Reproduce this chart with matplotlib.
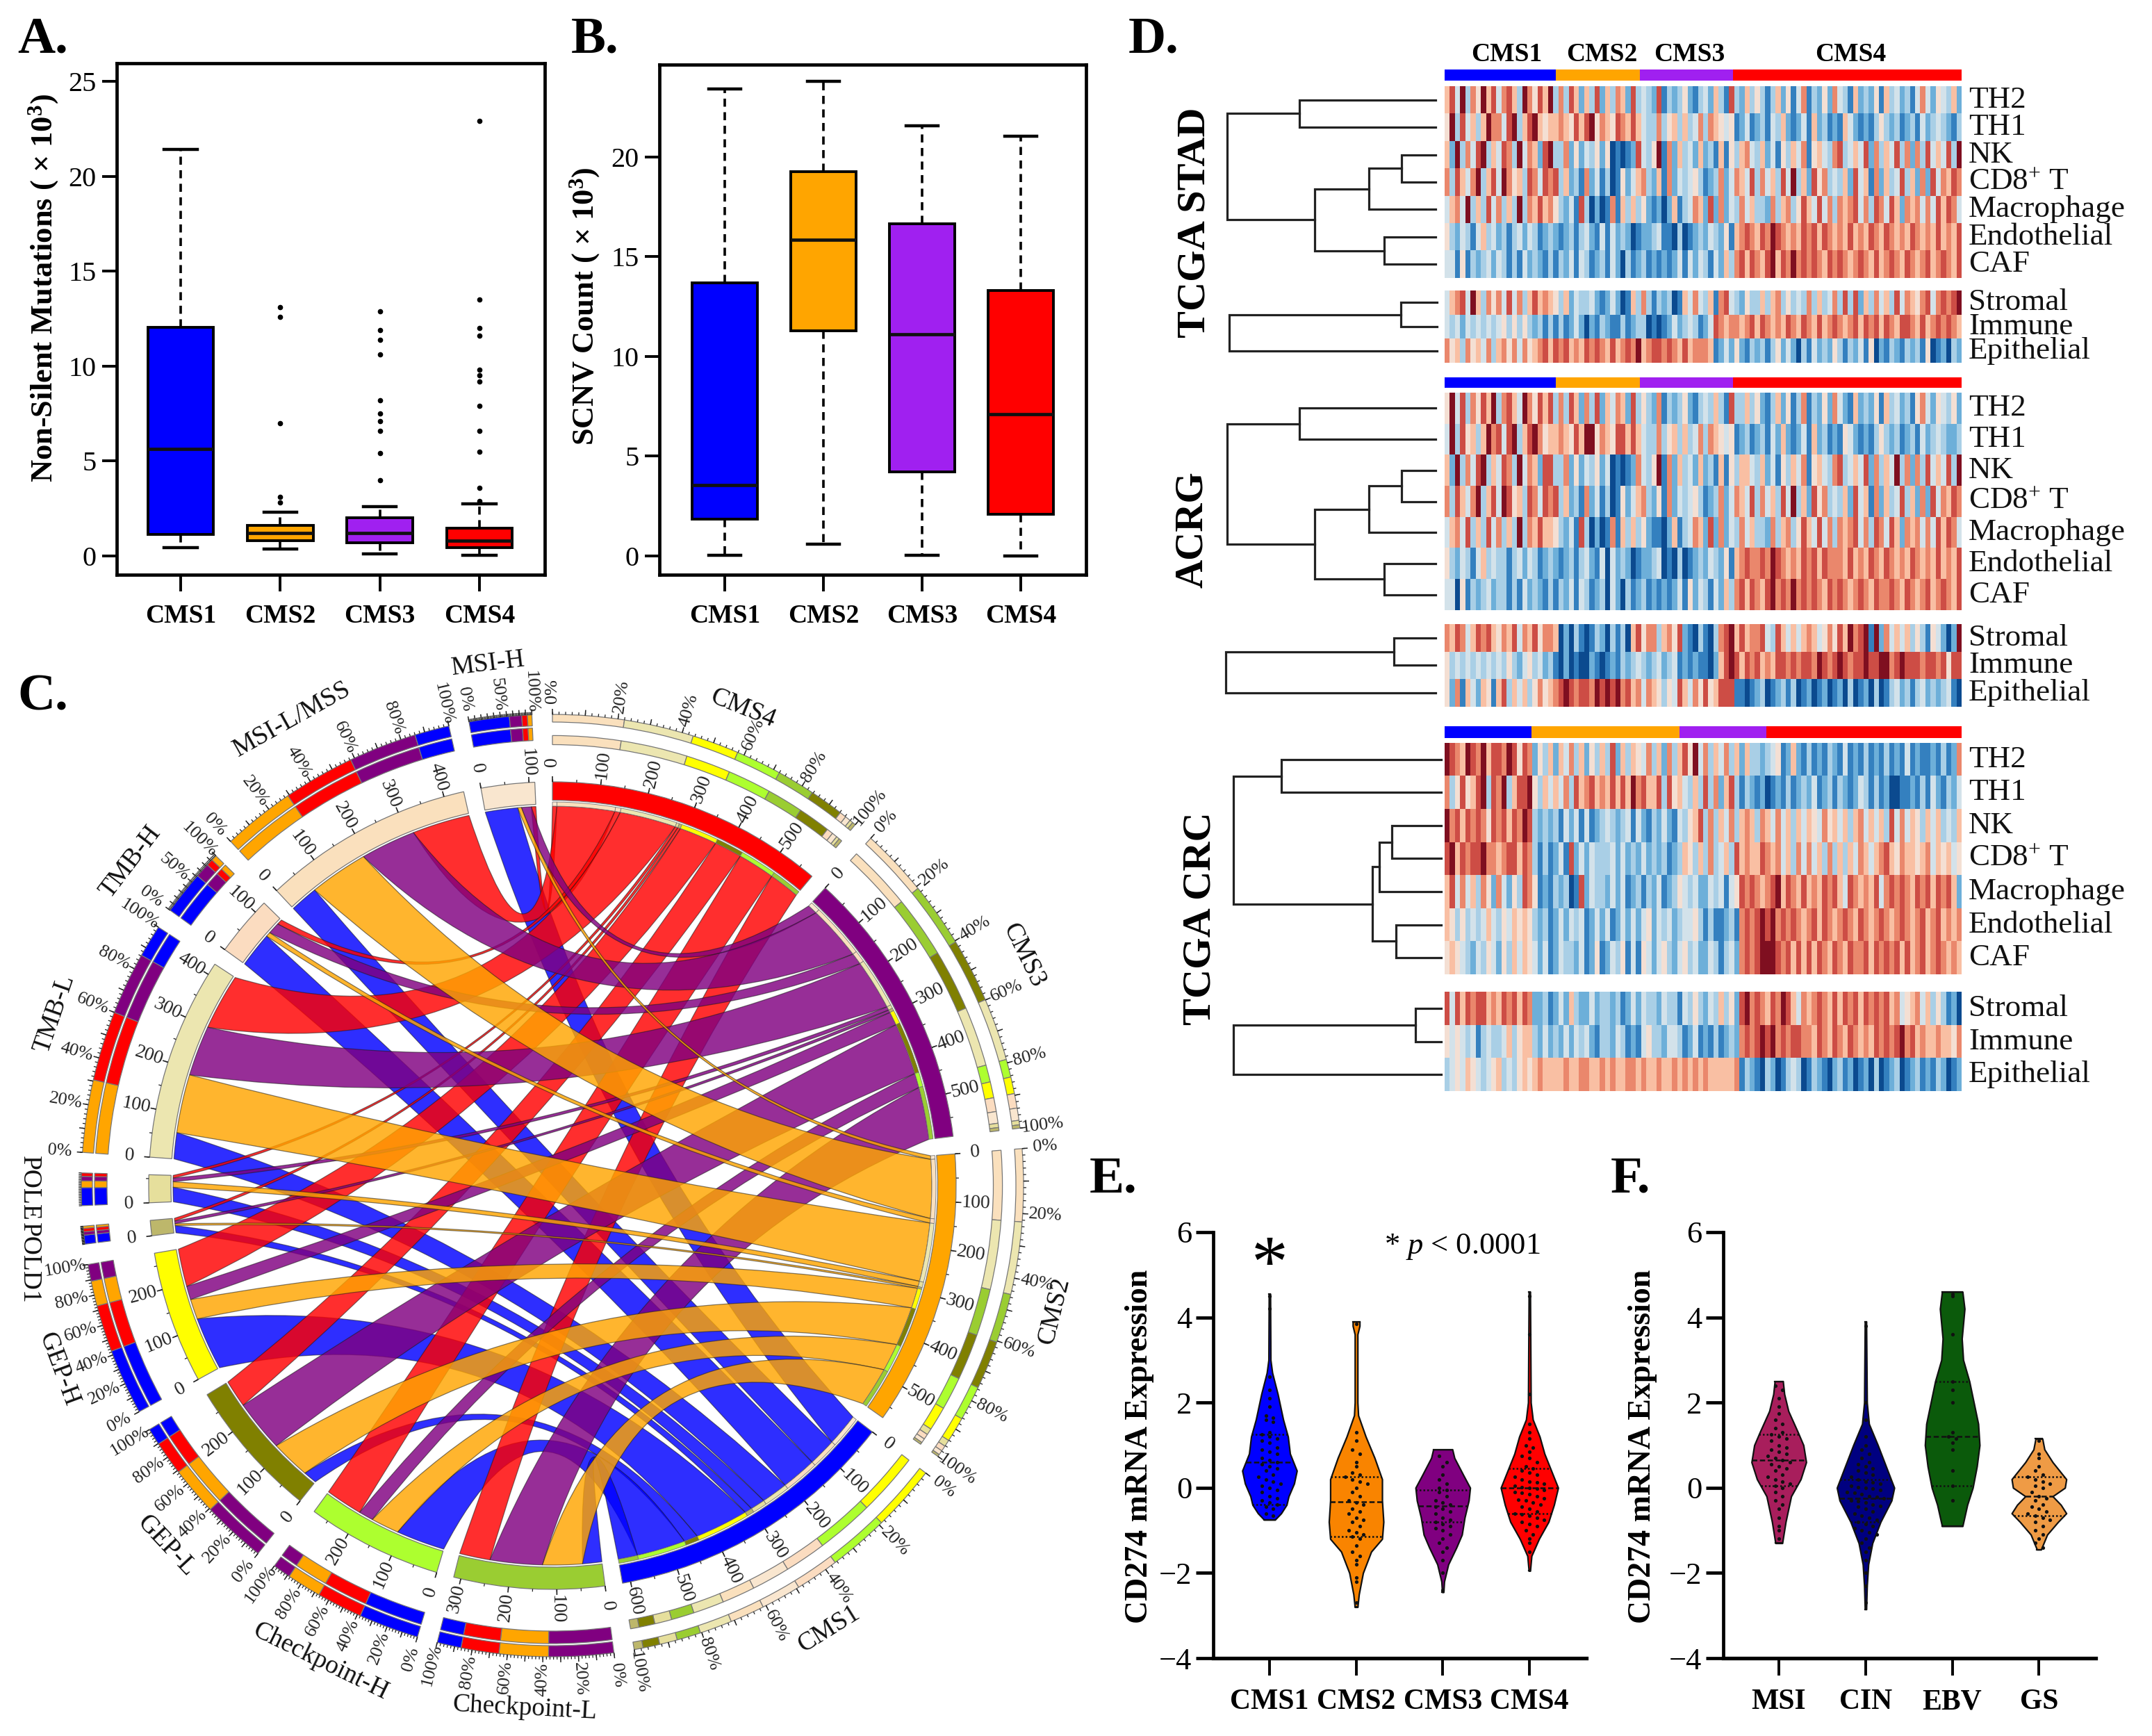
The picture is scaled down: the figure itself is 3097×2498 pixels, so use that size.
import numpy as np
import matplotlib
matplotlib.use("Agg")
import matplotlib.pyplot as plt
from matplotlib.colors import ListedColormap
from matplotlib.patches import Wedge, PathPatch
from matplotlib.path import Path
from matplotlib.collections import LineCollection

plt.rcParams['font.family'] = ['Liberation Serif', 'DejaVu Serif']
plt.rcParams['mathtext.fontset'] = 'custom'
plt.rcParams['mathtext.rm'] = 'Liberation Serif'
plt.rcParams['mathtext.it'] = 'Liberation Serif:italic'
plt.rcParams['mathtext.bf'] = 'Liberation Serif:bold'

W, H = 3097, 2498

# ---- A / B boxplots
cms_names = ["CMS1", "CMS2", "CMS3", "CMS4"]
cms_colors = ["#0000ff", "#ffa500", "#a020f0", "#ff0000"]
a_low = [0.45, 0.35, 0.1, 0.03]
a_q1 = [1.15, 0.8, 0.7, 0.45]
a_med = [5.65, 1.2, 1.2, 0.8]
a_q3 = [12.05, 1.6, 2.0, 1.45]
a_high = [21.4, 2.3, 2.6, 2.75]
a_fliers = [[],
            [2.8, 3.1, 7.0, 12.6, 13.1],
            [4.0, 5.4, 6.6, 7.1, 7.5, 8.2, 10.6, 11.4, 11.9, 12.9],
            [2.9, 3.6, 5.5, 6.6, 7.9, 9.2, 9.5, 9.8, 11.6, 12.0, 13.5, 22.9]]
b_low = [0.05, 0.6, 0.05, 0.0]
b_q1 = [1.85, 11.3, 4.2, 2.1]
b_med = [3.55, 15.85, 11.1, 7.1]
b_q3 = [13.7, 19.25, 16.65, 13.3]
b_high = [23.4, 23.8, 21.55, 21.05]

# ---- C chord
feature_names = ["MSI-H", "MSI-L/MSS", "TMB-H", "TMB-L", "POLE", "POLD1",
                 "GEP-H", "GEP-L", "Checkpoint-H", "Checkpoint-L"]
feature_colors = ["#f9e6cf", "#fae0bd", "#fbdcc0", "#ece6b0", "#e6df9c", "#bdb76b",
                  "#ffff00", "#808000", "#adff2f", "#9acd32"]
chord_colors = ["#0000ff", "#ffa500", "#800080", "#ff0000"]
#                MSI-H MSI-L TMB-H TMB-L POLE POLD1 GEP-H GEP-L CP-H CP-L
chord_cms1 = [72, 62, 78, 58, 32, 16, 118, 30, 108, 43]
chord_cms2 = [8, 130, 10, 130, 12, 4, 45, 87, 62, 88]
chord_cms3 = [22, 122, 26, 112, 8, 6, 30, 115, 32, 116]
chord_cms4 = [10, 128, 12, 125, 6, 6, 84, 61, 82, 68]
# tick steps of the numeric and percent axes
pct_step = {"MSI-H": 50, "TMB-H": 50, "POLE": 0, "POLD1": 0}

# ---- D heatmaps, one digit per column block, 0 = deep blue .. 9 = deep red
heat_labels_top = ["TH2", "TH1", "NK", "CD8$^{+}$ T", "Macrophage", "Endothelial", "CAF"]
heat_labels_low = ["Stromal", "Immune", "Epithelial"]
stad_sizes = [86, 65, 72, 177]
crc_sizes = [84, 143, 84, 189]
stad_top = [
    "6849375968 4786397586 9373862638 2637628343 2813235213 4263183263 5313625147 1325274316 2325163423 1474254362",
    "5938463697 7489368965 6676586895 7658768643 3735636347 3765451241 2314362124 1623121642 1213532312 3142343213",
    "6293748936 4873947628 9337252435 2501012843 5917263426 2316153674 3624153647 1564378346 4827364837 2738464839",
    "7386479368 4975638748 7836231724 1301524673 2617243453 1237247648 3746384936 2857343628 4617263483 6272847687",
    "4674936384 7363937686 7532418302 0171636352 1202613476 2827243746 3327367358 6484737678 4738748627 6747486874",
    "5324314634 2313424312 3212313421 4142320122 3411030123 2432516787 6879876768 7868767686 7687687676 8767686768",
    "4415132342 4313142321 3132414312 3142031231 2121241424 3142637868 7689687978 7876878767 8768678768 7678678768",
]
stad_low = [
    "4678496375 7484736867 6536243342 1242016373 1323016474 3617843253 3636735343 7363473838 2637463847 6578478789",
    "4342434343 4535353231 3131242021 3211312330 1012423431 2487677678 6876768768 7686787678 6878687688 7686787876",
    "7563756473 6757475678 6878676878 7686787967 8878768677 7612425213 2313524203 1423253132 4150213213 2315012032",
]
acrg_top = [
    "5948375869 3786497586 8373862738 2647628353 2713235213 4363183363 5213625137 1325274216 2325163423 1574254352",
    "4938563697 8489368975 6676586995 7658868643 3735636347 3765451231 2314262124 1623121542 1213532312 3142343223",
    "6293748936 4873947628 8337252435 2401012743 5917263426 2316153664 3624153647 1564378346 4827364937 2738464839",
    "7386479368 4985638748 7836231724 1301524673 2517243453 1237247648 3746384936 2857343628 4617263483 6272847687",
    "4674836384 7363937686 6532418302 0171636352 1102613476 2827243746 3327367358 6484737678 4738748627 6747486874",
    "5324314634 3313424312 3212313421 4042320122 3401030123 2432516787 7879876768 7868777686 7687687676 8767686768",
    "4405132342 3313142321 3132414312 3042031231 2121241524 3142637868 7689787978 7876878767 8768778768 7678678768",
]
acrg_low = [
    "7687468786 5768476857 7602031013 2031306857 7367582103 1037896867 7843864646 7645758697 8919274646 3531542029",
    "5343434343 4353245342 3102010021 0121323432 3423412121 1026898687 8676887878 8798789878 8988997898 8878878588",
    "5271642651 6836463575 6789878879 8989786747 6535486475 8568881101 2301231301 2012012030 1203013423 1342323410",
]
crc_top = [
    "9876987968 8798587253 6264736253 6382636547 3627368594 7364736263 3234512621 3121321412 1312131214 1211213127",
    "7358568938 7936889536 4647386786 7686869786 6838564363 8372683132 1201213123 2412313212 4313120011 2131421324",
    "9786878758 7868798323 2314241412 3432341421 3242143568 3736473676 3764746364 6547564636 7464638474 6536463436",
    "8968788977 6788687313 1241824243 3342423242 3231236536 3734638676 6876746374 7463736364 7646786576 6567465645",
    "6847463752 7425387512 1323018243 3242412313 2412354342 2434145878 7678968768 6768786487 6768478787 6878687862",
    "6535343464 3546565323 1242434124 2412424245 2434234453 1311231787 8989787876 7868767876 8767876787 6786786767",
    "5654324354 2536465424 1243324125 1243514154 2453245342 2431342787 8999878686 8687687687 7868787868 6786787676",
]
crc_low = [
    "8486878867 6878687223 1242632242 3323124243 3243314353 2436352897 8768798647 6787686878 6878786745 6746353120",
    "5454341343 3463566324 2324243421 3324312145 3324431241 2131232787 8989787887 7687687687 6768787897 8676676657",
    "3454654345 6343565676 6667667766 7676677676 6766767676 7666667132 1032013430 1321023120 1203012301 2312132012",
]
heat_colors = ["#0b4a8f", "#3480bf", "#6dafd9", "#a9cfe6", "#d3e2ea",
               "#f4dfd3", "#f9bfa3", "#ea876c", "#cd4d45", "#7f0f20"]
# dendrogram trees: (height, left, right), leaves are row numbers
stad_tree = (1.0, (0.653, 0, 1), (0.58, (0.32, (0.163, 2, 3), 4), (0.247, 5, 6)))
stad_tree_low = (1.0, (0.174, 0, 1), 2)
acrg_tree_low = (1.0, (0.199, 0, 1), 2)
crc_tree = (1.0, (0.769, 0, 1), (0.331, (0.298, (0.237, 2, 3), 4), (0.218, 5, 6)))
crc_tree_low = (1.0, (0.124, 0, 1), 2)

# ---- E / F violins: y level and half width read at that level
e_y = [[4.55, 3.0, 2.7, 2.2, 1.6, 1.2, 0.8, 0.4, 0.1, -0.2, -0.4, -0.6, -0.75],
       [3.9, 3.8, 3.6, 2.0, 1.7, 1.2, 0.7, 0.2, -0.3, -0.8, -1.2, -1.5, -2.0, -2.5, -2.8],
       [0.9, 0.7, 0.3, 0.0, -0.3, -0.7, -1.1, -1.4, -1.8, -2.2, -2.45],
       [4.6, 2.0, 1.6, 1.2, 0.8, 0.4, 0.0, -0.4, -0.8, -1.2, -1.6, -1.95]]
e_w = [[1, 1.5, 4, 12, 20, 27, 30, 40, 36, 28, 25, 17, 8],
       [5, 5, 2, 2, 3, 14, 27, 38, 38, 40, 38, 22, 10, 4, 2],
       [14, 17, 30, 40, 38, 32, 28, 20, 8, 2, 1],
       [1, 2, 5, 15, 22, 32, 42, 36, 28, 14, 3, 1]]
e_quart = [[1.25, 0.6, -0.4], [0.25, -0.33, -1.15], [-0.05, -0.43, -0.8], [0.45, 0.0, -0.6]]
e_pts = [[4.5, 4.2, 2.6, 2.3, 2.1, 1.9, 1.7, 1.65, 1.6, 1.55, 1.3, 1.25, 1.2, 1.15, 1.1, 1.05, 0.95, 0.9, 0.85,
          0.8, 0.7, 0.65, 0.6, 0.55, 0.5, 0.45, 0.4, 0.3, 0.25, 0.2, 0.15, 0.1, 0.05, 0.0, -0.05, -0.1, -0.2,
          -0.25, -0.3, -0.35, -0.4, -0.45, -0.5, -0.6, -0.65],
         [3.85, 1.3, 1.1, 0.9, 0.8, 0.6, 0.5, 0.35, 0.3, 0.25, 0.2, 0.15, 0.1, 0.0, -0.1, -0.2, -0.3, -0.35, -0.4,
          -0.5, -0.55, -0.6, -0.7, -0.75, -0.8, -0.9, -1.0, -1.05, -1.1, -1.15, -1.2, -1.35, -1.5, -1.6, -1.7,
          -1.8, -2.1, -2.2, -2.7],
         [0.75, 0.6, 0.5, 0.3, 0.2, 0.1, 0.0, -0.05, -0.1, -0.2, -0.3, -0.35, -0.4, -0.45, -0.5, -0.55, -0.6, -0.7,
          -0.75, -0.8, -0.85, -0.9, -0.95, -1.0, -1.1, -1.2, -1.3, -1.4, -1.5, -1.7, -2.0, -2.4],
         [4.5, 3.6, 2.2, 1.5, 1.3, 1.15, 1.0, 0.95, 0.85, 0.75, 0.7, 0.6, 0.5, 0.45, 0.4, 0.35, 0.3, 0.25, 0.2, 0.15,
          0.12, 0.1, 0.05, 0.02, 0.0, -0.02, -0.05, -0.1, -0.12, -0.15, -0.2, -0.25, -0.28, -0.3, -0.35, -0.4,
          -0.45, -0.5, -0.55, -0.6, -0.62, -0.65, -0.7, -0.75, -0.8, -0.85, -0.9, -1.0, -1.1, -1.2, -1.3, -1.5]]
f_names = ["MSI", "CIN", "EBV", "GS"]
f_colors = ["#a81e5c", "#000080", "#0b5a0b", "#ef9b45"]
f_y = [[2.5, 2.2, 1.8, 1.3, 1.0, 0.6, 0.2, -0.2, -0.8, -1.3],
       [3.9, 2.0, 1.5, 1.0, 0.5, 0.0, -0.3, -0.8, -1.3, -1.8, -2.3, -2.85],
       [4.6, 4.2, 3.5, 3.0, 2.5, 1.5, 1.0, 0.5, 0.0, -0.4, -0.9],
       [1.15, 0.9, 0.6, 0.2, 0.0, -0.2, -0.4, -0.6, -0.8, -1.1, -1.45]]
f_w = [[6, 8, 14, 28, 36, 40, 32, 18, 10, 5],
       [1, 2, 5, 18, 30, 42, 38, 22, 10, 4, 2, 1],
       [15, 18, 14, 16, 25, 38, 40, 36, 30, 22, 15],
       [5, 8, 20, 40, 38, 20, 32, 40, 28, 12, 3]]
f_quart = [[1.25, 0.65, 0.05], [0.2, -0.25, -0.8], [2.5, 1.2, 0.05], [0.25, -0.2, -0.65]]
f_pts = [[2.4, 2.3, 2.1, 1.9, 1.75, 1.6, 1.5, 1.4, 1.3, 1.25, 1.2, 1.15, 1.1, 1.0, 0.95, 0.9, 0.85, 0.8, 0.75, 0.7,
          0.65, 0.6, 0.55, 0.5, 0.45, 0.4, 0.3, 0.25, 0.2, 0.15, 0.1, 0.05, 0.0, -0.1, -0.2, -0.3, -0.4, -0.5,
          -0.7, -0.9, -1.0, -1.2],
         [3.8, 2.0, 1.6, 1.2, 1.0, 0.9, 0.8, 0.7, 0.6, 0.55, 0.5, 0.45, 0.4, 0.35, 0.3, 0.25, 0.2, 0.15, 0.12, 0.1, 0.05,
          0.02, 0.0, -0.02, -0.05, -0.1, -0.12, -0.15, -0.2, -0.22, -0.25, -0.3, -0.32, -0.35, -0.4, -0.42, -0.45,
          -0.5, -0.55, -0.6, -0.65, -0.7, -0.75, -0.8, -0.85, -0.9, -0.95, -1.0, -1.05, -1.1, -1.2, -1.3, -1.4,
          -1.5, -1.7, -2.0, -2.3, -2.7],
         [4.55, 4.5, 3.6, 2.5, 2.3, 2.0, 1.3, 1.2, 1.15, 1.05, 0.9, 0.4, 0.05, -0.3],
         [1.1, 0.8, 0.7, 0.5, 0.4, 0.3, 0.25, 0.2, 0.15, 0.1, 0.05, 0.0, -0.1, -0.2, -0.25, -0.3, -0.4, -0.45, -0.5,
          -0.55, -0.6, -0.65, -0.7, -0.75, -0.8, -0.9, -1.0, -1.1, -1.2, -1.3, -1.4]]


def px_ax(l, t, r, b):
    return fig.add_axes([l / W, 1 - b / H, (r - l) / W, (b - t) / H])


def ftext(x, y, s, **kw):
    kw.setdefault("ha", "center")
    kw.setdefault("va", "center")
    fig.text(x / W, 1 - y / H, s, **kw)


fig = plt.figure(figsize=(W / 100, H / 100), dpi=100, facecolor="white")

for s, x, y in [("A.", 25, 76), ("B.", 822, 76), ("C.", 25, 1022), ("D.", 1624, 76), ("E.", 1568, 1716), ("F.", 2318, 1716)]:
    ftext(x, y, s, ha="left", va="baseline", fontsize=54, fontweight="bold")


# ---- panels A and B
def box_panel(box, xlim, ylim, low, q1, med, q3, high, fliers):
    ax = px_ax(*box)
    stats = [dict(med=med[i], q1=q1[i], q3=q3[i], whislo=low[i], whishi=high[i], fliers=fliers[i]) for i in range(4)]
    parts = ax.bxp(stats, positions=[1, 2, 3, 4], widths=0.66, patch_artist=True,
                   medianprops=dict(color="#111111", lw=3.4),
                   boxprops=dict(lw=2.8, edgecolor="black"),
                   whiskerprops=dict(lw=2.6, linestyle=(0, (3.2, 2.2)), color="black"),
                   capprops=dict(lw=3.2, color="black"),
                   flierprops=dict(marker="o", markersize=4.5, markerfacecolor="black", markeredgecolor="black"))
    for patch, c in zip(parts["boxes"], cms_colors):
        patch.set_facecolor(c)
    for cap in parts["caps"]:
        xd = cap.get_xdata()
        m = xd.mean()
        cap.set_xdata([m - 0.165, m + 0.165])
    ax.set_xlim(*xlim)
    ax.set_ylim(*ylim)
    ax.set_xticks([1, 2, 3, 4])
    ax.set_xticklabels(cms_names, fontsize=27, fontweight="bold")
    ax.set_yticks([0, 5, 10, 15, 20] + ([25] if ylim[1] > 25 else []))
    ax.tick_params(axis="y", length=15, width=2.8, labelsize=29, pad=6)
    ax.tick_params(axis="x", length=17, width=2.8, pad=13)
    for sp in ax.spines.values():
        sp.set_linewidth(3.4)
    return ax


box_panel((168, 91, 784, 827), (0.358, 4.657), (-0.99, 25.95), a_low, a_q1, a_med, a_q3, a_high, a_fliers)
box_panel((949, 93, 1563, 827), (0.338, 4.662), (-0.94, 24.63), b_low, b_q1, b_med, b_q3, b_high, [[], [], [], []])
ftext(63, 415, "Non-Silent Mutations ( × 10$^{\\mathbf{3}}$)", rotation=90, fontsize=32, fontweight="bold")
ftext(842, 441, "SCNV Count ( × 10$^{\\mathbf{3}}$)", rotation=90, fontsize=32, fontweight="bold")

# ---- panel C
chord_rows = [chord_cms1, chord_cms2, chord_cms3, chord_cms4]
chord = np.array(chord_rows, dtype=float)
cx, cy, half = 795, 1706, 790
axc = px_ax(cx - half, cy - half, cx + half, cy + half)
axc.set_xlim(-half, half)
axc.set_ylim(-half, half)
axc.set_aspect("equal")
axc.axis("off")
axc.patch.set_alpha(0)

GAP = 2.5
sector_order = [("cms", 3), ("cms", 2), ("cms", 1), ("cms", 0)] + [("feat", i) for i in [9, 8, 7, 6, 5, 4, 3, 2, 1, 0]]
udeg = (360 - GAP * len(sector_order)) / (2 * chord.sum())


def pol(th, r):
    t = np.radians(th)
    return r * np.sin(t), r * np.cos(t)


def ring(th1, th2, r_in, r_out, color, ec="#777777", lw=0.9, z=5):
    axc.add_patch(Wedge((0, 0), r_out, 90 - th2, 90 - th1, width=r_out - r_in, facecolor=color, edgecolor=ec, lw=lw, zorder=z))


def ticks(th_list, r0, r1, lw=1.0):
    segs = [[pol(t, r0), pol(t, r1)] for t in th_list]
    axc.add_collection(LineCollection(segs, colors="#222222", linewidths=lw, zorder=6))


def radial_text(th, r, s, size):
    x, y = pol(th, r)
    th = th % 360
    rot = 90 - th if th <= 180 else 270 - th
    axc.text(x, y, s, rotation=rot, rotation_mode="anchor", ha="center", va="center", fontsize=size, color="#222222", zorder=7)


spans = {}
th = 0.0
for kind, i in sector_order:
    size = chord[i].sum() if kind == "cms" else chord[:, i].sum()
    spans[(kind, i)] = (th, th + size * udeg, size)
    th += size * udeg + GAP

# chord end positions
ends_cms = {}
for i in range(4):
    t0 = spans[("cms", i)][0]
    for j in range(10):
        ends_cms[(i, j)] = (t0, t0 + chord[i, j] * udeg)
        t0 += chord[i, j] * udeg
ends_feat = {}
for j in range(10):
    t0 = spans[("feat", j)][0]
    for i in range(4):
        ends_feat[(i, j)] = (t0, t0 + chord[i, j] * udeg)
        t0 += chord[i, j] * udeg


def ctrl(a, b, r):
    d = (b - a) % 360
    if d > 180:
        d = 360 - d
        mid = b + d / 2
    else:
        mid = a + d / 2
    return pol(mid, 0.45 * r * abs(np.cos(np.radians(d / 2))))


R = 546
# blue lies at the bottom, orange on top
for rank, i in enumerate([0, 3, 2, 1]):
    for j in range(10):
        a1, a2 = ends_cms[(i, j)]
        b1, b2 = ends_feat[(i, j)]
        verts, codes = [], []
        arc_a = np.linspace(a1, a2, 12)
        verts.append(pol(a1, R))
        codes.append(Path.MOVETO)
        for t in arc_a[1:]:
            verts.append(pol(t, R))
            codes.append(Path.LINETO)
        verts += [ctrl(a2, b1, R), pol(b1, R)]
        codes += [Path.CURVE3, Path.CURVE3]
        for t in np.linspace(b1, b2, 12)[1:]:
            verts.append(pol(t, R))
            codes.append(Path.LINETO)
        verts += [ctrl(b2, a1, R), pol(a1, R)]
        codes += [Path.CURVE3, Path.CURVE3]
        rgba = matplotlib.colors.to_rgba(chord_colors[i], 0.82)
        axc.add_patch(PathPatch(Path(verts, codes), facecolor=rgba, edgecolor=(0.1, 0.1, 0.1, 0.55), lw=0.9, zorder=2 + rank * 0.1))

label_pos = {"CMS4": (21.8, 739), "CMS3": (64, 755), "CMS2": (104, 745), "CMS1": (148, 752),
             "Checkpoint-L": (183, 753), "Checkpoint-H": (206, 762), "GEP-L": (227, 760), "GEP-H": (249.6, 758),
             "POLD1": (261.6, 761), "POLE": (269.7, 753), "TMB-L": (289, 758), "TMB-H": (307.5, 765),
             "MSI-L/MSS": (330.8, 768), "MSI-H": (353, 756)}

for (kind, i), (t1, t2, size) in spans.items():
    if kind == "cms":
        name = cms_names[i]
        ring(t1, t2, 554.5, 581, chord_colors[i])
        for j in range(10):
            a, b = ends_cms[(i, j)]
            ring(a, b, 546, 552, feature_colors[j], lw=0.6)
        shares = list(zip(chord[i], feature_colors))
        in_r, out_r = (634.5, 647.6), (667, 678)
    else:
        name = feature_names[i]
        ring(t1, t2, 549, 581, feature_colors[i])
        shares = list(zip(chord[:, i], chord_colors))
        in_r, out_r = (641, 659), (662, 678)
    # numeric axis
    vals = np.arange(0, size + 1, 100)
    ticks([t1 + v * udeg for v in vals], 581, 589, lw=1.2)
    ticks([t1 + v * udeg for v in np.arange(0, size, 50)], 581, 585, lw=0.9)
    for v in vals:
        radial_text(t1 + v * udeg, 610, "%d" % v, 20)
    # percent tracks, largest share first
    shares.sort(key=lambda q: -q[0])
    t0 = t1
    for val, col in shares:
        t_end = t0 + val * udeg
        ring(t0, t_end, in_r[0], in_r[1], col)
        ring(t0, t_end, out_r[0], out_r[1], col)
        t0 = t_end
    span = t2 - t1
    step = pct_step.get(name, 20)
    ticks([t1 + span * p / 100 for p in np.arange(0, 101, 2 if step != 0 else 5)], 678, 682, lw=0.9)
    if step:
        ticks([t1 + span * p / 100 for p in np.arange(0, 101, 10)], 678, 686, lw=1.1)
        for p in np.arange(0, 101, step):
            radial_text(t1 + span * p / 100, 711, "%d%%" % p, 19)
    lt, lr = label_pos[name]
    lx, ly = pol(lt, lr)
    rot = -lt if (lt < 90 or lt > 270) else 180 - lt
    if name in ("POLE", "POLD1"):
        rot = -90
    axc.text(lx, ly, name, rotation=rot, rotation_mode="anchor", ha="center", va="center", fontsize=27, color="#111111", zorder=7)


# ---- panel D
cmap_heat = ListedColormap(heat_colors)


def draw_tree(ax, node):
    if not isinstance(node, tuple):
        return node + 0.5, 0.0
    h, left, right = node
    y1, h1 = draw_tree(ax, left)
    y2, h2 = draw_tree(ax, right)
    ax.plot([h1, h, h, h2], [y1, y1, y2, y2], color="#222222", lw=2.3, solid_joinstyle="miter")
    return (y1 + y2) / 2, h


def heat_block(rows, labels, top, bottom, tree, root_x, leaf_x, left=2079, right=2823):
    ax = px_ax(left, top, right, bottom)
    arr = np.array([[int(c) for c in r.replace(" ", "")] for r in rows])
    ax.imshow(arr, aspect="auto", cmap=cmap_heat, vmin=0, vmax=9, interpolation="nearest")
    ax.axis("off")
    n = len(labels)
    rh = (bottom - top) / n
    for k, s in enumerate(labels):
        ftext(2833, top + rh * (k + 0.5), s, ha="left", fontsize=32.5, color="#111111")
    axd = px_ax(root_x, top, leaf_x, bottom)
    axd.set_xlim(1.0, 0.0)
    axd.set_ylim(n, 0)
    axd.axis("off")
    draw_tree(axd, tree)
    for line in axd.lines:
        line.set_clip_on(False)


def anno_bar(sizes, top, bottom, left=2079, right=2823):
    ax = px_ax(left, top, right, bottom)
    ax.barh([0], sizes, left=np.cumsum([0] + sizes[:-1]), height=1, color=cms_colors, lw=0)
    ax.set_xlim(0, sum(sizes))
    ax.set_ylim(-0.5, 0.5)
    ax.axis("off")


anno_bar(stad_sizes, 100, 116)
anno_bar(stad_sizes, 543, 558)
anno_bar(crc_sizes, 1045, 1062)
heat_block(stad_top, heat_labels_top, 124, 400, stad_tree, 1766, 2066)
heat_block(stad_low, heat_labels_low, 418, 522, stad_tree_low, 1769, 2068)
heat_block(acrg_top, heat_labels_top, 565, 878, stad_tree, 1766, 2066)
heat_block(acrg_low, heat_labels_low, 898, 1017, acrg_tree_low, 1764, 2066)
heat_block(crc_top, heat_labels_top, 1069, 1402, crc_tree, 1775, 2074)
heat_block(crc_low, heat_labels_low, 1427, 1570, crc_tree_low, 1775, 2074)
for s, x in zip(cms_names, [2168, 2305, 2431, 2663]):
    ftext(x, 78, s, fontsize=27, fontweight="bold")
ftext(1719, 320, "TCGA STAD", rotation=90, fontsize=42, fontweight="bold")
ftext(1716, 762, "ACRG", rotation=90, fontsize=41, fontweight="bold")
ftext(1727, 1322, "TCGA CRC", rotation=90, fontsize=42, fontweight="bold")


# ---- panels E and F
def swarm(vals, step=0.17, space=0.085):
    vals = np.array(vals)
    bins = np.round(vals / step).astype(int)
    xs = np.zeros(len(vals))
    for b in np.unique(bins):
        idx = np.where(bins == b)[0]
        xs[idx] = (np.arange(len(idx)) - (len(idx) - 1) / 2) * space
    return xs


def violin_panel(box, xlim, names, colors, ys, ws, quarts, pts):
    ax = px_ax(*box)
    for i in range(4):
        pos = i + 1
        y = np.array(ys[i])
        w = np.array(ws[i]) / 127.0
        ax.fill_betweenx(y, pos - w, pos + w, facecolor=colors[i], edgecolor="#111111", lw=1.6, zorder=2)
        ax.plot([pos - w[0], pos + w[0]], [y[0], y[0]], color="#111111", lw=1.6, zorder=2)
        ax.plot([pos - w[-1], pos + w[-1]], [y[-1], y[-1]], color="#111111", lw=1.6, zorder=2)
        for k, q in enumerate(quarts[i]):
            hw = np.interp(q, y[::-1], w[::-1])
            style = (0, (3, 1.5)) if k == 1 else (0, (1, 1.2))
            ax.plot([pos - hw, pos + hw], [q, q], color="#111111", lw=1.8, ls=style, zorder=3)
        ax.scatter(pos + swarm(pts[i]), pts[i], s=14, color="#111111", lw=0, zorder=4)
    ax.set_xlim(*xlim)
    ax.set_ylim(-4, 6)
    ax.set_xticks([1, 2, 3, 4])
    ax.set_xticklabels(names, fontsize=30, fontweight="bold")
    ax.set_yticks([-4, -2, 0, 2, 4, 6])
    ax.tick_params(axis="y", length=18, width=3.4, labelsize=32, pad=4)
    ax.tick_params(axis="x", length=18, width=2.8, pad=14)
    ax.spines["top"].set_visible(False)
    ax.spines["right"].set_visible(False)
    ax.spines["left"].set_linewidth(3.4)
    ax.spines["bottom"].set_linewidth(3.8)
    ax.patch.set_alpha(0)
    return ax


axe = violin_panel((1746, 1773, 2283, 2386), (0.35, 4.657), cms_names, ["#0000ff", "#f98400", "#800080", "#ff0000"],
                   e_y, e_w, e_quart, e_pts)
axf = violin_panel((2480, 1773, 3016, 2386), (0.359, 4.654), f_names, f_colors, f_y, f_w, f_quart, f_pts)
ftext(1640, 2081, "CD274 mRNA Expression", rotation=90, fontsize=33, fontweight="bold")
ftext(2364, 2081, "CD274 mRNA Expression", rotation=90, fontsize=33, fontweight="bold")
ftext(2104, 1794, "* $p$ < 0.0001", fontsize=32)
ftext(1827, 1826, "*", fontsize=76)

fig.savefig("out.png", dpi=100)
